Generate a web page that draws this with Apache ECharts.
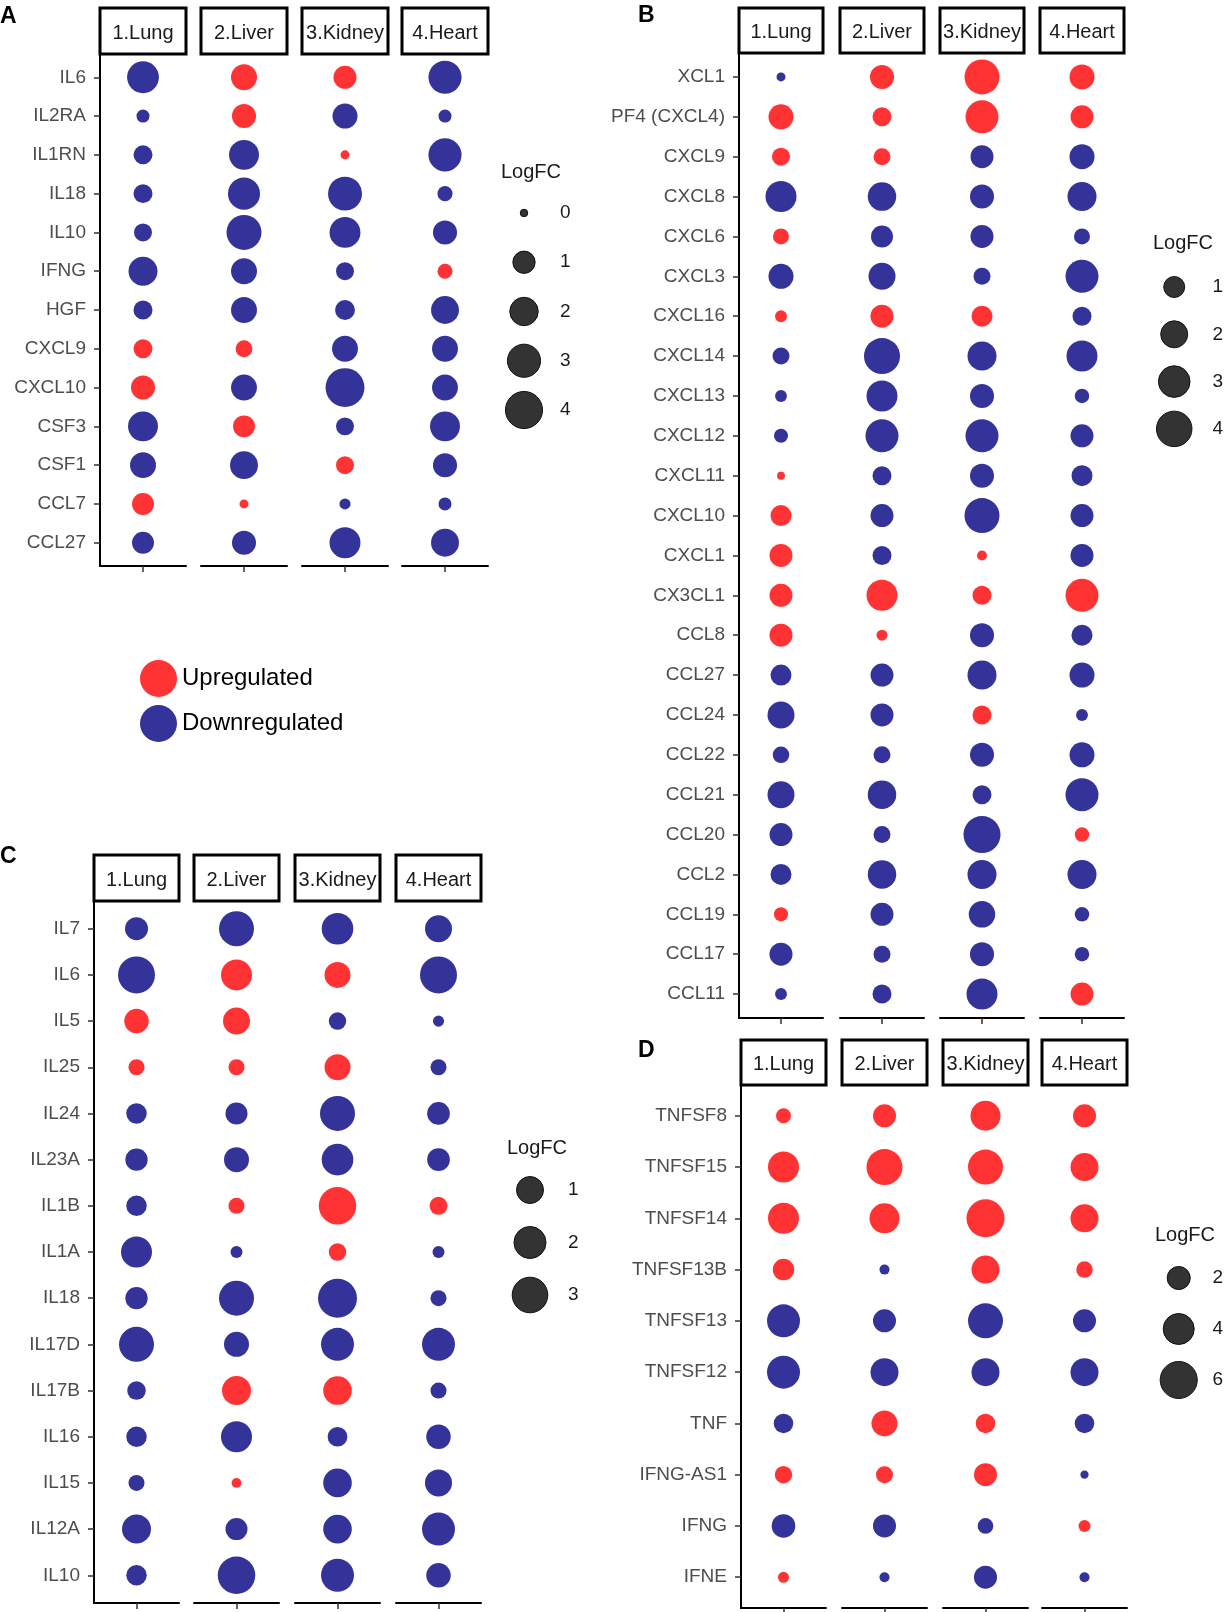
<!DOCTYPE html>
<html>
<head>
<meta charset="utf-8">
<title>LogFC dot plots</title>
<script src="https://cdn.jsdelivr.net/npm/echarts@6/dist/echarts.min.js"></script>
<style>
  html, body { margin: 0; padding: 0; background: #fff; }
  #main { width: 1226px; height: 1612px; }
</style>
</head>
<body>
<div id="main"></div>
<script>
var tissues = ['1.Lung', '2.Liver', '3.Kidney', '4.Heart'];

// A: interleukins / growth factors
var genesA = ['IL6', 'IL2RA', 'IL1RN', 'IL18', 'IL10', 'IFNG', 'HGF', 'CXCL9', 'CXCL10', 'CSF3', 'CSF1', 'CCL7', 'CCL27'];
// rows follow genes, columns follow tissues
var lfcA = [
  [-2.7, 1.55, 1.1, -3.0],
  [-0.14, 1.25, -1.4, -0.14],
  [-0.6, -2.3, 0.01, -3.0],
  [-0.6, -2.75, -3.2, -0.26],
  [-0.5, -3.45, -2.5, -1.25],
  [-2.1, -1.55, -0.5, 0.26],
  [-0.6, -1.55, -0.7, -1.9],
  [0.6, 0.4, -1.55, -1.55],
  [1.25, -1.55, -4.5, -1.55],
  [-2.3, 0.95, -0.5, -2.3],
  [-1.55, -1.9, 0.5, -1.25],
  [0.95, 0.01, -0.06, -0.14],
  [-0.95, -1.25, -2.5, -1.9]
];
var breaksA = [0, 1, 2, 3, 4];

// B: chemokines
var genesB = ['XCL1', 'PF4 (CXCL4)', 'CXCL9', 'CXCL8', 'CXCL6', 'CXCL3', 'CXCL16', 'CXCL14', 'CXCL13', 'CXCL12',
  'CXCL11', 'CXCL10', 'CXCL1', 'CX3CL1', 'CCL8', 'CCL27', 'CCL24', 'CCL22', 'CCL21', 'CCL20', 'CCL2', 'CCL19', 'CCL17', 'CCL11'];
var lfcB = [
  [-0.03, 1.46, 3.86, 1.63],
  [1.63, 0.74, 3.34, 1.29],
  [0.63, 0.52, -1.29, -1.63],
  [-2.85, -2.3, -1.46, -2.41],
  [0.43, -1.14, -1.29, -0.43],
  [-1.63, -2.0, -0.52, -3.34],
  [0.14, 1.29, 1.0, -0.74],
  [-0.52, -4.14, -2.41, -2.85],
  [-0.14, -2.85, -1.46, -0.3],
  [-0.27, -3.34, -3.34, -1.29],
  [0.01, -0.74, -1.46, -1.0],
  [1.0, -1.29, -3.86, -1.29],
  [1.29, -0.74, 0.06, -1.29],
  [1.29, 2.85, 0.74, 3.34],
  [1.29, 0.1, -1.46, -1.0],
  [-1.0, -1.29, -2.41, -1.63],
  [-2.0, -1.29, 0.74, -0.14],
  [-0.48, -0.52, -1.46, -1.63],
  [-2.0, -2.3, -0.74, -3.34],
  [-1.29, -0.52, -4.43, 0.3],
  [-1.0, -2.3, -2.41, -2.41],
  [0.27, -1.29, -1.9, -0.3],
  [-1.29, -0.52, -1.46, -0.3],
  [-0.14, -0.74, -2.85, 1.29]
];
var breaksB = [1, 2, 3, 4];

// C: interleukins
var genesC = ['IL7', 'IL6', 'IL5', 'IL25', 'IL24', 'IL23A', 'IL1B', 'IL1A', 'IL18', 'IL17D', 'IL17B', 'IL16', 'IL15', 'IL12A', 'IL10'];
var lfcC = [
  [-0.5, -2.81, -1.89, -1.0],
  [-3.46, 1.75, 0.85, -3.46],
  [0.66, 1.0, -0.13, -0.005],
  [0.08, 0.08, 0.85, -0.08],
  [-0.29, -0.41, -2.81, -0.47],
  [-0.43, -0.72, -1.89, -0.47],
  [-0.29, 0.08, 3.65, 0.15],
  [-1.75, -0.01, 0.13, -0.01],
  [-0.43, -2.81, -4.22, -0.08],
  [-2.81, -0.72, -2.24, -2.24],
  [-0.18, 1.34, 1.27, -0.08],
  [-0.29, -1.75, -0.24, -0.66],
  [-0.08, 0.001, -1.27, -1.0],
  [-1.34, -0.41, -1.27, -2.24],
  [-0.29, -3.65, -2.24, -0.66]
];
var breaksC = [1, 2, 3];

// D: TNF superfamily / interferons
var genesD = ['TNFSF8', 'TNFSF15', 'TNFSF14', 'TNFSF13B', 'TNFSF13', 'TNFSF12', 'TNF', 'IFNG-AS1', 'IFNG', 'IFNE'];
var lfcD = [
  [0.66, 1.98, 3.71, 1.98],
  [4.0, 5.62, 5.27, 3.16],
  [4.0, 3.71, 6.34, 3.16],
  [1.68, -0.2, 3.16, 0.86],
  [-4.61, -1.98, -5.27, -1.98],
  [-4.61, -3.16, -3.16, -3.16],
  [-1.32, 2.66, 1.32, -1.32],
  [1.0, 0.93, 1.98, -0.1],
  [-2.11, -1.98, -0.75, 0.35],
  [0.27, -0.2, -1.98, -0.2]
];
var breaksD = [2, 4, 6];

var RED = '#ff3333';
var BLUE = '#333399';
var FONT = 'Liberation Sans, Arial, sans-serif';

// layout of each panel (pixels) and dot size scale
var panels = [
  { key: 'A', genes: genesA, lfc: lfcA, breaks: breaksA,
    lefts: [100, 201, 302, 402], w: 86, stripTop: 8, top: 54, bottom: 566, letter: [0, 17],
    size: { a: 7.5, b: 14.8, p: 0.5 },
    leg: { x: 524, y: 213, step: 49.25, labelX: 560, titleX: 501, titleY: 172 } },
  { key: 'B', genes: genesB, lfc: lfcB, breaks: breaksB,
    lefts: [739, 840, 940, 1040], w: 84, stripTop: 8, top: 53, bottom: 1018, letter: [638, 16],
    size: { a: 6.5, b: 14.5, p: 0.5 },
    leg: { x: 1175, y: 287, step: 47.3, labelX: 1214, titleX: 1153, titleY: 243 } },
  { key: 'C', genes: genesC, lfc: lfcC, breaks: breaksC,
    lefts: [94, 194, 295, 396], w: 85, stripTop: 855, top: 901, bottom: 1603, letter: [0, 857],
    size: { a: 8, b: 19, p: 0.34 },
    leg: { x: 530, y: 1190, step: 52.5, labelX: 568, titleX: 507, titleY: 1148 } },
  { key: 'D', genes: genesD, lfc: lfcD, breaks: breaksD,
    lefts: [741, 842, 943, 1042], w: 85, stripTop: 1040, top: 1085, bottom: 1608, letter: [638, 1051],
    size: { a: 4, b: 13.5, p: 0.5 },
    leg: { x: 1179, y: 1278, step: 51, labelX: 1213, titleX: 1155, titleY: 1235 } }
];

var grids = [], xAxes = [], yAxes = [], series = [], graphics = [];

panels.forEach(function (p) {
  var n = p.genes.length;
  var ticks = p.genes.map(function (g, i) { return i; });
  var sizeOf = function (v) { return p.size.a + p.size.b * Math.pow(Math.abs(v), p.size.p); };
  var symbolSize = function (d) { return sizeOf(d[2]); };

  tissues.forEach(function (t, j) {
    var gi = grids.length;
    grids.push({ left: p.lefts[j], width: p.w, top: p.top, height: p.bottom - p.top });
    xAxes.push({
      type: 'category', gridIndex: gi, data: [t], boundaryGap: true,
      axisLine: { show: true, onZero: false, lineStyle: { color: '#000', width: 2 } },
      axisTick: { show: true, alignWithLabel: true, length: 6, lineStyle: { color: '#333', width: 1.5 } },
      axisLabel: { show: false },
      splitLine: { show: false }
    });
    yAxes.push({
      type: 'value', gridIndex: gi, min: -0.6, max: n - 0.4, inverse: true,
      axisLine: { show: j === 0, onZero: false, lineStyle: { color: '#000', width: 2 } },
      axisTick: { show: j === 0, customValues: ticks, length: 6, lineStyle: { color: '#333', width: 1.5 } },
      axisLabel: {
        show: j === 0, customValues: ticks, margin: 14, fontSize: 19, fontFamily: FONT, color: '#4d4d4d',
        formatter: function (v) { return p.genes[Math.round(v)]; }
      },
      splitLine: { show: false }
    });

    var up = [], down = [];
    p.genes.forEach(function (g, i) {
      var v = p.lfc[i][j];
      (v > 0 ? up : down).push([t, i, v]);
    });
    series.push({ name: 'Upregulated', type: 'scatter', xAxisIndex: gi, yAxisIndex: gi,
      data: up, symbolSize: symbolSize, itemStyle: { color: RED, opacity: 1 } });
    series.push({ name: 'Downregulated', type: 'scatter', xAxisIndex: gi, yAxisIndex: gi,
      data: down, symbolSize: symbolSize, itemStyle: { color: BLUE, opacity: 1 } });

    // facet strip
    graphics.push({ type: 'rect', shape: { x: p.lefts[j], y: p.stripTop, width: p.w, height: p.top - p.stripTop },
      style: { fill: '#fff', stroke: '#000', lineWidth: 3 } });
    graphics.push({ type: 'text', x: p.lefts[j] + p.w / 2, y: (p.stripTop + p.top) / 2 + 2,
      style: { text: t, font: '20px ' + FONT, fill: '#1a1a1a',
        textAlign: 'center', align: 'center', textVerticalAlign: 'middle', verticalAlign: 'middle' } });
  });

  // size legend
  var L = p.leg, lg = grids.length;
  grids.push({ left: L.x - 20, width: 40, top: L.y - L.step / 2, height: L.step * p.breaks.length });
  xAxes.push({ type: 'value', gridIndex: lg, min: -1, max: 1, show: false });
  yAxes.push({
    type: 'category', gridIndex: lg, data: p.breaks.map(String), inverse: true, position: 'right',
    axisLine: { show: false }, axisTick: { show: false }, splitLine: { show: false },
    axisLabel: { margin: L.labelX - (L.x + 20), fontSize: 19, fontFamily: FONT, color: '#1a1a1a' }
  });
  series.push({ name: 'LogFC ' + p.key, type: 'scatter', xAxisIndex: lg, yAxisIndex: lg,
    data: p.breaks.map(function (b, i) { return [0, i, b]; }),
    symbolSize: symbolSize,
    itemStyle: { color: '#333333', borderColor: '#111', borderWidth: 1, opacity: 1 } });
  graphics.push({ type: 'text', x: L.titleX, y: L.titleY,
    style: { text: 'LogFC', font: '20px ' + FONT, fill: '#1a1a1a',
      textAlign: 'left', align: 'left', textVerticalAlign: 'middle', verticalAlign: 'middle' } });

  // panel letter
  graphics.push({ type: 'text', x: p.letter[0], y: p.letter[1],
    style: { text: p.key, font: 'bold 23px ' + FONT, fill: '#000',
      textAlign: 'left', align: 'left', textVerticalAlign: 'middle', verticalAlign: 'middle' } });
});

var myChart = echarts.init(document.getElementById('main'));
myChart.setOption({
  animation: false,
  backgroundColor: '#fff',
  textStyle: { fontFamily: FONT },
  legend: {
    data: ['Upregulated', 'Downregulated'],
    orient: 'vertical', left: 135, top: 655,
    itemWidth: 37, itemHeight: 37, itemGap: 8, icon: 'circle',
    selectedMode: false,
    textStyle: { fontSize: 24, color: '#000', fontFamily: FONT }
  },
  grid: grids,
  xAxis: xAxes,
  yAxis: yAxes,
  series: series,
  graphic: graphics
});
</script>
</body>
</html>
